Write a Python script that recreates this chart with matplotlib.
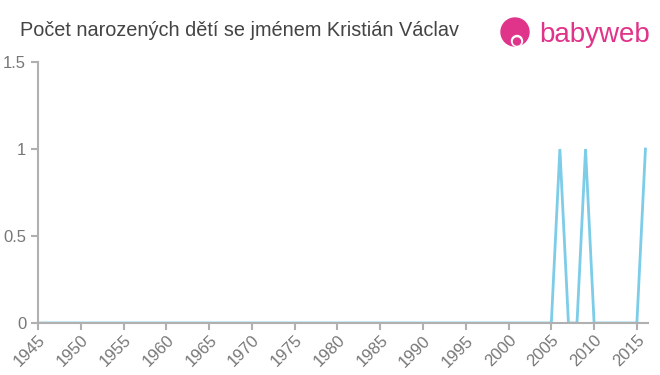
import matplotlib
matplotlib.use("Agg")
import matplotlib.pyplot as plt
from matplotlib.patches import Circle

years = list(range(1945, 2017))
ones = [2006, 2009, 2016]
counts = [1 if y in ones else 0 for y in years]
xticks = list(range(1945, 2016, 5))
yticks = [0, 0.5, 1, 1.5]
ytick_labels = ["0", "0.5", "1", "1.5"]
title = "Počet narozených dětí se jménem Kristián Václav"

plt.rcParams['font.family'] = ['Liberation Sans', 'DejaVu Sans']

fig = plt.figure(figsize=(6.6, 3.75), dpi=100)
ax = fig.add_axes([38/660, 1-323/375, (648-38)/660, (323-62)/375])

ax.plot(years, counts, color="#7dcce8", lw=2.0, solid_joinstyle="miter")
ax.set_xlim(1945, 2016.3)
ax.set_ylim(0, 1.5)
ax.set_xticks(xticks)
ax.set_xticklabels([str(x) for x in xticks], rotation=45, ha="right", rotation_mode="anchor")
ax.set_yticks(yticks)
ax.set_yticklabels(ytick_labels)
for s in ["top", "right"]:
    ax.spines[s].set_visible(False)
for s in ["left", "bottom"]:
    ax.spines[s].set_color("#b0b0b0")
    ax.spines[s].set_linewidth(1.5)
ax.tick_params(axis="both", colors="#b0b0b0", labelcolor="#777777", labelsize=12, length=5, width=1.5)
ax.tick_params(axis="x", pad=2)

fig.text(20/660, 1-30/375, title, fontsize=14.3, color="#444444", va="center", ha="left")

# logo
pink = "#e0338a"
logo_ax = fig.add_axes([0, 0, 1, 1], facecolor="none")
logo_ax.set_xlim(0, 660)
logo_ax.set_ylim(375, 0)
logo_ax.axis("off")
logo_ax.add_patch(Circle((515, 32), 14, color=pink))
logo_ax.add_patch(Circle((517, 41), 5.5, color="white"))
logo_ax.add_patch(Circle((517, 41.5), 3.5, color=pink))
logo_ax.text(539, 35, "babyweb", fontsize=20, color=pink, va="center", ha="left")

fig.savefig("out.png", dpi=100)
